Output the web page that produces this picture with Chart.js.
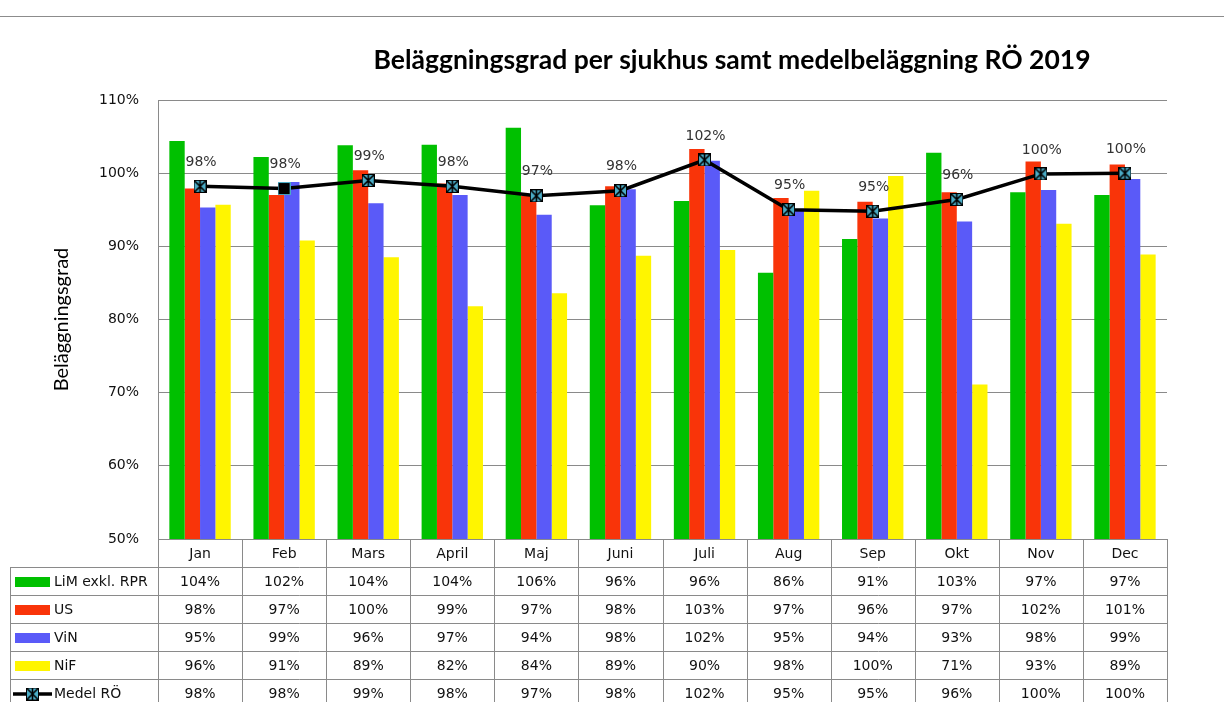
<!DOCTYPE html>
<html>
<head>
<meta charset="utf-8">
<script src="https://cdn.jsdelivr.net/npm/chart.js@4.4.0/dist/chart.umd.min.js"></script>
<style>
    html, body { margin: 0; padding: 0; background: #fff; }
    #wrap { position: relative; width: 1224px; height: 702px; overflow: hidden; }
    #topline { position: absolute; left: 0; top: 16px; width: 1224px; height: 1px; background: #8c8c8c; }
    canvas { position: absolute; left: 0; top: 0; }
</style>
</head>
<body>
<div id="wrap">
    <div id="topline"></div>
    <canvas id="chart" width="1224" height="702"></canvas>
</div>
<script>
const title = "Beläggningsgrad per sjukhus samt medelbeläggning RÖ 2019";
const months = ["Jan", "Feb", "Mars", "April", "Maj", "Juni", "Juli", "Aug", "Sep", "Okt", "Nov", "Dec"];
const seriesNames = ["LiM exkl. RPR", "US", "ViN", "NiF", "Medel RÖ"];

// occupancy in percent
const lim = [104.4, 102.2, 103.8, 103.9, 106.2, 95.6, 96.2, 86.4, 91.0, 102.8, 97.4, 97.0];
const us = [97.9, 97.0, 100.4, 98.6, 96.9, 98.2, 103.3, 96.6, 96.1, 97.4, 101.6, 101.2];
const vin = [95.3, 98.8, 95.9, 97.0, 94.3, 97.8, 101.7, 95.0, 93.8, 93.4, 97.7, 99.2];
const nif = [95.7, 90.8, 88.5, 81.8, 83.6, 88.7, 89.5, 97.6, 99.6, 71.1, 93.1, 88.9];
const medel = [98.2, 97.9, 99.0, 98.2, 96.9, 97.6, 101.8, 95.0, 94.8, 96.4, 99.9, 100.0];

const yTicks = [50, 60, 70, 80, 90, 100, 110];

const colors = ["#00c000", "#f93409", "#5a5af8", "#fff500"];
const gridColor = "#8a8a8a";
const textFont = "DejaVu Sans";

function makeMarker(fill, edge, cross) {
    const c = document.createElement("canvas");
    c.width = 13;
    c.height = 13;
    const g = c.getContext("2d");
    g.fillStyle = fill;
    g.fillRect(0, 0, 13, 13);
    g.strokeStyle = edge;
    g.lineWidth = 1;
    g.strokeRect(0.5, 0.5, 12, 12);
    if (cross) {
        g.strokeStyle = "#000";
        g.lineWidth = 1.6;
        g.beginPath();
        g.moveTo(1, 1); g.lineTo(12, 12);
        g.moveTo(12, 1); g.lineTo(1, 12);
        g.moveTo(6.5, 0); g.lineTo(6.5, 13);
        g.stroke();
    }
    return c;
}

const starMarker = makeMarker("#4aacc6", "#000", true);
const squareMarker = makeMarker("#000", "#4aacc6", false);
const markers = months.map((m, i) => i === 1 ? squareMarker : starMarker);

const tablePlugin = {
    id: "tablePlugin",
    afterDraw(chart) {
        const { ctx, chartArea: area } = chart;
        const xs = chart.scales.x;
        const colW = (area.right - area.left) / months.length;
        const rowH = 28;
        const headTop = area.bottom;
        const bodyTop = headTop + rowH;
        const legendLeft = 10.5;
        const rows = [lim, us, vin, nif, medel];

        ctx.save();

        // title
        ctx.fillStyle = "#000";
        ctx.font = "bold 26.5px Lato";
        ctx.textAlign = "center";
        ctx.textBaseline = "alphabetic";
        ctx.fillText(title, 732, 69);

        // labels over the average line
        const meta = chart.getDatasetMeta(4);
        ctx.font = "14px " + textFont;
        ctx.fillStyle = "#333";
        ctx.textBaseline = "middle";
        meta.data.forEach((pt, i) => {
            ctx.fillText(Math.round(medel[i]) + "%", pt.x + 1, pt.y - 24);
        });

        // grid of the table
        ctx.strokeStyle = gridColor;
        ctx.lineWidth = 1;
        ctx.beginPath();
        for (let i = 0; i <= months.length; i++) {
            const x = Math.round(xs.getPixelForValue(0) - colW / 2 + i * colW) + 0.5;
            ctx.moveTo(x, headTop);
            ctx.lineTo(x, 702);
        }
        ctx.moveTo(legendLeft, bodyTop);
        ctx.lineTo(legendLeft, 702);
        for (let r = 0; r <= rows.length; r++) {
            const y = Math.round(bodyTop + r * rowH) + 0.5;
            ctx.moveTo(legendLeft, y);
            ctx.lineTo(Math.round(area.right) + 0.5, y);
        }
        ctx.stroke();

        // month header
        ctx.fillStyle = "#111";
        ctx.font = "14px " + textFont;
        ctx.textAlign = "center";
        ctx.textBaseline = "middle";
        months.forEach((m, i) => {
            ctx.fillText(m, xs.getPixelForValue(i), headTop + rowH / 2 + 1);
        });

        // rows
        rows.forEach((vals, r) => {
            const yMid = bodyTop + r * rowH + rowH / 2 + 1;
            ctx.textAlign = "center";
            ctx.fillStyle = "#111";
            vals.forEach((v, i) => {
                ctx.fillText(Math.round(v) + "%", xs.getPixelForValue(i), yMid);
            });
            if (r < 4) {
                ctx.fillStyle = colors[r];
                ctx.fillRect(15, yMid - 5, 35, 10);
            } else {
                ctx.strokeStyle = "#000";
                ctx.lineWidth = 3.5;
                ctx.beginPath();
                ctx.moveTo(13, yMid);
                ctx.lineTo(52, yMid);
                ctx.stroke();
                ctx.drawImage(starMarker, 26, yMid - 6.5);
            }
            ctx.fillStyle = "#111";
            ctx.textAlign = "left";
            ctx.fillText(seriesNames[r], 54, yMid);
        });

        ctx.restore();
    }
};

const barSet = (label, data, color) => ({
    type: "bar",
    label,
    data,
    backgroundColor: color,
    borderWidth: 0,
    barPercentage: 1.0,
    categoryPercentage: 0.73,
    order: 1
});

new Chart(document.getElementById("chart"), {
    data: {
        labels: months,
        datasets: [
            barSet(seriesNames[0], lim, colors[0]),
            barSet(seriesNames[1], us, colors[1]),
            barSet(seriesNames[2], vin, colors[2]),
            barSet(seriesNames[3], nif, colors[3]),
            {
                type: "line",
                label: seriesNames[4],
                data: medel,
                borderColor: "#000",
                borderWidth: 3.5,
                tension: 0,
                pointStyle: markers,
                pointRadius: 7,
                order: 0
            }
        ]
    },
    options: {
        responsive: false,
        animation: false,
        events: [],
        layout: { padding: { left: 0, right: 57, top: 100, bottom: 163 } },
        plugins: {
            legend: { display: false },
            tooltip: { enabled: false },
            title: { display: false }
        },
        scales: {
            x: {
                display: false
            },
            y: {
                min: yTicks[0],
                max: yTicks[yTicks.length - 1],
                afterFit(scale) { scale.width = 158; },
                afterBuildTicks(scale) { scale.ticks = yTicks.map(v => ({ value: v })); },
                ticks: {
                    padding: 19,
                    color: "#111",
                    font: { family: textFont, size: 14 },
                    callback: v => v + "%"
                },
                grid: { color: gridColor, lineWidth: 1, drawTicks: false },
                border: { display: true, color: gridColor, width: 1 },
                title: {
                    display: true,
                    text: "Beläggningsgrad",
                    color: "#000",
                    font: { family: "Lato", size: 20 },
                    padding: { top: 50, bottom: 0 }
                }
            }
        }
    },
    plugins: [tablePlugin]
});
</script>
</body>
</html>
